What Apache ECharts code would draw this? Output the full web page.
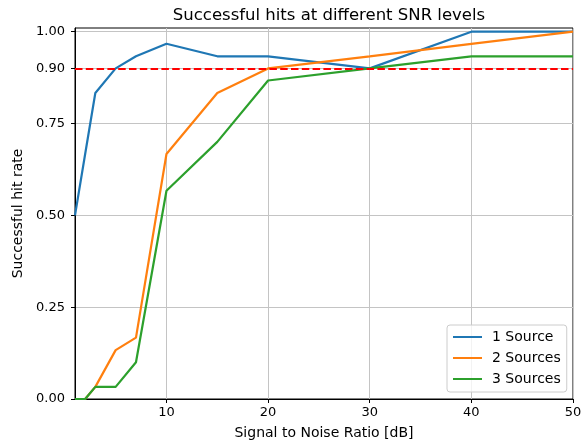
<!DOCTYPE html>
<html>
<head>
<meta charset="utf-8">
<script src="https://cdn.jsdelivr.net/npm/echarts@6/dist/echarts.min.js"></script>
<style>
  html, body { margin: 0; padding: 0; background: #fff; }
  #chart { width: 587px; height: 445px; }
</style>
</head>
<body>
<div id="chart"></div>
<script>
// SNR levels (dB) and hit rates per number of sources
const snrLevels = [1, 2, 3, 5, 7, 10, 15, 20, 30, 40, 50];
const oneSource = [0.5, 0.667, 0.833, 0.9, 0.933, 0.967, 0.933, 0.933, 0.9, 1.0, 1.0];
const twoSources = [0, 0, 0.033, 0.133, 0.167, 0.667, 0.833, 0.9, 0.933, 0.967, 1.0];
const threeSources = [0, 0, 0.033, 0.033, 0.1, 0.567, 0.7, 0.867, 0.9, 0.933, 0.933];
const seriesNames = ['1 Source', '2 Sources', '3 Sources'];
const threshold = 0.9;

// Tick labels
const xTicks = [10, 20, 30, 40, 50];
const yTicks = [0, 0.25, 0.5, 0.75, 0.9, 1.0];

const FONT = 'DejaVu Sans';
const GRID_COLOR = '#c4c4c4';
const xMin = 1, xMax = 50, yMin = 0, yMax = 1.01;

const pairs = ys => snrLevels.map((x, i) => [x, ys[i]]);
const colors = ['#1f77b4', '#ff7f0e', '#2ca02c'];

const chart = echarts.init(document.getElementById('chart'), null, { renderer: 'canvas' });
chart.setOption({
  animation: false,
  backgroundColor: '#fff',
  textStyle: { fontFamily: FONT },
  title: {
    text: 'Successful hits at different SNR levels',
    left: 324,
    top: 2,
    textAlign: 'center',
    textStyle: { fontFamily: FONT, fontSize: 16.5, fontWeight: 'normal', color: '#000' }
  },
  grid: {
    left: 75, right: 14, top: 28, bottom: 46,
    show: true, borderColor: '#000', borderWidth: 1, backgroundColor: 'transparent'
  },
  legend: {
    orient: 'vertical',
    left: 447,
    top: 325,
    padding: [5, 6, 6, 6],
    itemGap: 7,
    itemWidth: 29,
    itemHeight: 2,
    icon: 'rect',
    borderColor: '#cccccc',
    borderWidth: 1,
    borderRadius: 3,
    backgroundColor: 'rgba(255,255,255,0.8)',
    textStyle: { fontFamily: FONT, fontSize: 14, color: '#000', padding: [0, 0, 0, 5], lineHeight: 14 },
    data: seriesNames
  },
  xAxis: {
    type: 'value',
    min: xMin, max: xMax, interval: 1,
    name: 'Signal to Noise Ratio [dB]',
    nameLocation: 'middle',
    nameGap: 27,
    nameTextStyle: { fontFamily: FONT, fontSize: 14, color: '#000' },
    axisLine: { show: true, onZero: false, lineStyle: { color: '#000', width: 1 } },
    axisTick: { show: true, inside: false, length: 4, customValues: xTicks, lineStyle: { color: '#000' } },
    axisLabel: { customValues: xTicks, margin: 7, fontFamily: FONT, fontSize: 13, color: '#000' },
    splitLine: { show: true, lineStyle: { color: GRID_COLOR, width: 1 } }
  },
  yAxis: {
    type: 'value',
    min: yMin, max: yMax, interval: 0.05,
    name: 'Successful hit rate',
    nameLocation: 'middle',
    nameRotate: 90,
    nameGap: 48,
    nameTextStyle: { fontFamily: FONT, fontSize: 14, color: '#000' },
    axisLine: { show: true, onZero: false, lineStyle: { color: '#000', width: 1 } },
    axisTick: { show: true, inside: false, length: 4, customValues: yTicks, lineStyle: { color: '#000' } },
    axisLabel: {
      customValues: yTicks, margin: 10, fontFamily: FONT, fontSize: 13, color: '#000',
      formatter: v => v.toFixed(2)
    },
    splitLine: { show: true, lineStyle: { color: GRID_COLOR, width: 1 } }
  },
  series: [
    { name: seriesNames[0], data: pairs(oneSource) },
    { name: seriesNames[1], data: pairs(twoSources) },
    { name: seriesNames[2], data: pairs(threeSources) }
  ].map((s, i) => Object.assign({
    type: 'line',
    symbol: 'none',
    clip: true,
    color: colors[i],
    lineStyle: { color: colors[i], width: 2.2 }
  }, s)).concat([{
    name: 'threshold',
    type: 'line',
    symbol: 'none',
    data: [],
    silent: true,
    markLine: {
      silent: true,
      symbol: ['none', 'none'],
      label: { show: false },
      lineStyle: { color: '#ff0000', width: 2, type: [7.5, 3.3] },
      data: [{ yAxis: threshold }]
    }
  }])
});
</script>
</body>
</html>
